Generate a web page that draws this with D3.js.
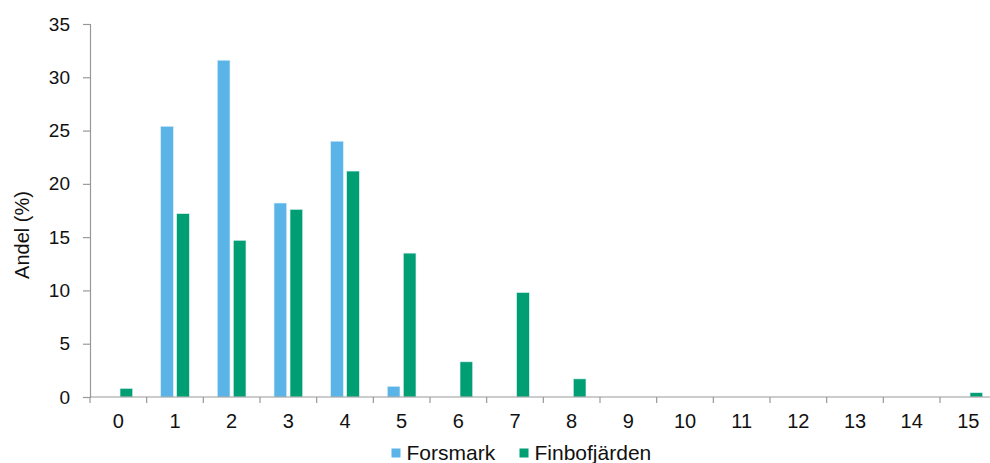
<!DOCTYPE html>
<html><head><meta charset="utf-8">
<script src="https://cdn.jsdelivr.net/npm/d3@7/dist/d3.min.js"></script>
<style>body{margin:0;background:#fff}svg{display:block}text{font-family:"Liberation Sans",Arial,sans-serif;fill:#111}</style>
</head><body><svg id="c" width="990" height="463"></svg>
<script>
const categories = ["0","1","2","3","4","5","6","7","8","9","10","11","12","13","14","15"];
const forsmark = [0, 25.4, 31.6, 18.2, 24.0, 1.0, 0, 0, 0, 0, 0, 0, 0, 0, 0, 0];
const finbofjarden = [0.8, 17.2, 14.7, 17.6, 21.2, 13.5, 3.3, 9.8, 1.7, 0, 0, 0, 0, 0, 0, 0.4];
const seriesNames = ["Forsmark", "Finbofjärden"];
const yTicks = [0, 5, 10, 15, 20, 25, 30, 35];
const colors = ["#5AB4E7", "#009E73"];

const svg = d3.select("#c");
const x0 = 90, y0 = 397, yTop = 24;
const x = d3.scaleBand().domain(categories).range([x0, x0 + 56.667 * 16]).paddingInner(0).paddingOuter(0);
const y = d3.scaleLinear().domain([0, 35]).range([y0, yTop]);
const barW = 12.6, gap = 3.4;

const series = [forsmark, finbofjarden];
series.forEach((vals, si) => {
  svg.append("g").selectAll("rect").data(vals.map((v, i) => ({v, c: categories[i]})).filter(d => d.v > 0))
    .join("rect")
    .attr("x", d => x(d.c) + x.bandwidth() / 2 - barW - gap / 2 + si * (barW + gap))
    .attr("y", d => y(d.v))
    .attr("width", barW)
    .attr("height", d => y0 - y(d.v))
    .attr("fill", colors[si])
    .attr("stroke", "#d8eef5").attr("stroke-width", 0.6);
});

// y axis
const ya = svg.append("g").attr("transform", `translate(${x0},0)`)
  .call(d3.axisLeft(y).tickValues(yTicks).tickSize(7).tickPadding(13));
ya.select(".domain").attr("stroke", "#999").attr("stroke-width", 1.2);
ya.selectAll(".tick line").attr("stroke", "#999").attr("stroke-width", 1.2);
ya.selectAll("text").style("font-size", "19px").attr("fill", "#111");

// x axis
const xa = svg.append("g").attr("transform", `translate(0,${y0})`);
xa.append("line").attr("x1", x0).attr("x2", 990).attr("stroke", "#999").attr("stroke-width", 1.2);
const bounds = categories.map(c => x(c)).concat([x(categories[15]) + x.bandwidth()]);
xa.selectAll("line.t").data(bounds).join("line").attr("class", "t")
  .attr("x1", d => d).attr("x2", d => d).attr("y1", 0).attr("y2", 6)
  .attr("stroke", "#999").attr("stroke-width", 1.2);
xa.selectAll("text").data(categories).join("text")
  .attr("x", d => x(d) + x.bandwidth() / 2).attr("y", 31)
  .attr("text-anchor", "middle").style("font-size", "20px").text(d => d);

// y title
svg.append("text").attr("transform", "translate(29,235) rotate(-90)")
  .attr("text-anchor", "middle").style("font-size", "20px").text("Andel (%)");

// legend
const lg = svg.append("g");
const lx = [391.5, 519.5];
seriesNames.forEach((n, i) => {
  lg.append("rect").attr("x", lx[i]).attr("y", 448.5).attr("width", 9).attr("height", 9).attr("fill", colors[i]);
  lg.append("text").attr("x", lx[i] + 15).attr("y", 460).style("font-size", "21px").text(n);
});
</script></body></html>
